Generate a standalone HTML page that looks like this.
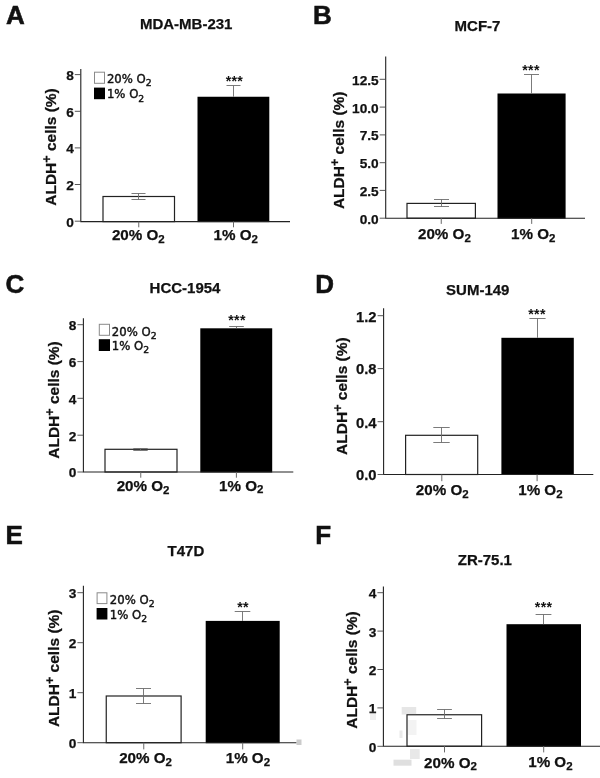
<!DOCTYPE html>
<html lang="en"><head><meta charset="utf-8"><title>ALDH+ cells under hypoxia</title>
<style>html,body{margin:0;padding:0;background:#fff;overflow:hidden}svg{display:block}text{font-family:"Liberation Sans", Arial, Helvetica, sans-serif;fill:#111}.lg{font-family:"DejaVu Sans","Liberation Sans",sans-serif}.st{font-weight:700;letter-spacing:0.3px}.b{font-weight:700;stroke:#111;stroke-width:0.25}.ax{stroke:#222;stroke-width:1.1;fill:none}.er{stroke:#6c6c6c;stroke-width:0.9;fill:none}.lg{stroke:#111;stroke-width:0.42}</style></head><body>
<svg width="600" height="778" viewBox="0 0 600 778">
<rect width="600" height="778" fill="#fff"/>
<g>
<text class="b" style="stroke-width:0.55" x="6.0" y="24.4" font-size="26">A</text>
<text class="b" x="186.2" y="28.9" font-size="15" text-anchor="middle">MDA-MB-231</text>
<rect x="103" y="196.5" width="71.5" height="25.1" fill="#fff" stroke="#222" stroke-width="1.2"/>
<rect x="197.5" y="96.75" width="71.8" height="125.35" fill="#000"/>
<path class="ax" d="M80.8 69V221.6H290"/>
<path class="ax" style="stroke-width:0.9;stroke:#444" d="M74.8 74.6H80.8M74.8 111.3H80.8M74.8 147.9H80.8M74.8 184.5H80.8M74.8 221.2H80.8"/>
<path class="ax" style="stroke-width:1;stroke:#6a6a6a" d="M138.75 221.6V227.3M233.5 221.6V227.3"/>
<text class="b" x="73.8" y="80.0" font-size="13.7" text-anchor="end">8</text>
<text class="b" x="73.8" y="116.7" font-size="13.7" text-anchor="end">6</text>
<text class="b" x="73.8" y="153.3" font-size="13.7" text-anchor="end">4</text>
<text class="b" x="73.8" y="189.9" font-size="13.7" text-anchor="end">2</text>
<text class="b" x="73.8" y="226.6" font-size="13.7" text-anchor="end">0</text>
<path class="er" d="M131.5 193.5H145.5M138.5 193.5V199.5M131.5 199.5H145.5"/>
<path class="er" d="M226.5 85.5H240.5M233.5 85.5V96.75"/>
<text class="st" x="234.4" y="85.6" font-size="14.2" text-anchor="middle">***</text>
<text class="b" x="138.3" y="239.8" font-size="15.2" text-anchor="middle">20% O<tspan dy="2.8" font-size="11.5">2</tspan></text>
<text class="b" x="235.8" y="239.8" font-size="15.2" text-anchor="middle">1% O<tspan dy="2.8" font-size="11.5">2</tspan></text>
<text class="b" transform="translate(55.6 147) rotate(-90)" font-size="15.5" text-anchor="middle">ALDH<tspan dy="-5" font-size="12.5">+</tspan><tspan dy="5"> cells (%)</tspan></text>
<rect x="94.5" y="72.2" width="10" height="11.1" fill="#fff" stroke="#8a8a8a" stroke-width="1"/>
<rect x="94.0" y="87.6" width="11" height="11.6" fill="#000"/>
<text class="lg" x="106.9" y="82.8" font-size="11.7">20% O<tspan dy="3.1" font-size="9.3">2</tspan></text>
<text class="lg" x="106.9" y="98.4" font-size="11.7">1% O<tspan dy="3.1" font-size="9.3">2</tspan></text>
</g>
<g>
<text class="b" style="stroke-width:0.55" x="313.1" y="24.3" font-size="26">B</text>
<text class="b" x="477.5" y="30.5" font-size="15" text-anchor="middle">MCF-7</text>
<rect x="407" y="203.4" width="68.4" height="14.8" fill="#fff" stroke="#222" stroke-width="1.2"/>
<rect x="497.5" y="93.5" width="68.1" height="125.2" fill="#000"/>
<path class="ax" d="M385.7 56.4V218.2H585"/>
<path class="ax" style="stroke-width:0.9;stroke:#444" d="M379.7 79.3H385.7M379.7 107.1H385.7M379.7 134.9H385.7M379.7 162.7H385.7M379.7 190.4H385.7M379.7 218.2H385.7"/>
<path class="ax" style="stroke-width:1;stroke:#6a6a6a" d="M441.25 218.2V223.9M531.7 218.2V223.9"/>
<text class="b" x="378.7" y="84.7" font-size="13.7" text-anchor="end">12.5</text>
<text class="b" x="378.7" y="112.5" font-size="13.7" text-anchor="end">10.0</text>
<text class="b" x="378.7" y="140.3" font-size="13.7" text-anchor="end">7.5</text>
<text class="b" x="378.7" y="168.1" font-size="13.7" text-anchor="end">5.0</text>
<text class="b" x="378.7" y="195.8" font-size="13.7" text-anchor="end">2.5</text>
<text class="b" x="378.7" y="223.6" font-size="13.7" text-anchor="end">0.0</text>
<path class="er" d="M434.0 199.5H449.0M441.5 199.5V206.5M434.0 206.5H449.0"/>
<path class="er" d="M524.0 74.5H539.0M531.5 74.5V93.5"/>
<text class="st" x="531" y="74.6" font-size="14.2" text-anchor="middle">***</text>
<text class="b" x="444.4" y="239.4" font-size="15.2" text-anchor="middle">20% O<tspan dy="2.8" font-size="11.5">2</tspan></text>
<text class="b" x="533.2" y="239.1" font-size="15.2" text-anchor="middle">1% O<tspan dy="2.8" font-size="11.5">2</tspan></text>
<text class="b" transform="translate(343.8 150.3) rotate(-90)" font-size="15.5" text-anchor="middle">ALDH<tspan dy="-5" font-size="12.5">+</tspan><tspan dy="5"> cells (%)</tspan></text>
</g>
<g>
<text class="b" style="stroke-width:0.55" x="5.5" y="292.8" font-size="26">C</text>
<text class="b" x="185" y="292.9" font-size="15" text-anchor="middle">HCC-1954</text>
<rect x="105" y="449.3" width="72" height="22.7" fill="#fff" stroke="#222" stroke-width="1.2"/>
<rect x="200.3" y="328.3" width="71.9" height="144.2" fill="#000"/>
<path class="ax" d="M83.4 318.2V472H293.3"/>
<path class="ax" style="stroke-width:0.9;stroke:#444" d="M77.4 324.7H83.4M77.4 361.6H83.4M77.4 398.3H83.4M77.4 435.2H83.4M77.4 472H83.4"/>
<path class="ax" style="stroke-width:1;stroke:#6a6a6a" d="M140.75 472V477.7M236.4 472V477.7"/>
<text class="b" x="76.4" y="330.1" font-size="13.7" text-anchor="end">8</text>
<text class="b" x="76.4" y="367.0" font-size="13.7" text-anchor="end">6</text>
<text class="b" x="76.4" y="403.7" font-size="13.7" text-anchor="end">4</text>
<text class="b" x="76.4" y="440.6" font-size="13.7" text-anchor="end">2</text>
<text class="b" x="76.4" y="477.4" font-size="13.7" text-anchor="end">0</text>
<path class="er" d="M133.3 448.5H147.7M140.5 448.5V450.5M133.3 450.5H147.7"/>
<path class="er" d="M229.2 326.5H243.8M236.5 326.5V328.3"/>
<text class="st" x="237" y="324.9" font-size="14.2" text-anchor="middle">***</text>
<text class="b" x="143.1" y="491.3" font-size="15.2" text-anchor="middle">20% O<tspan dy="2.8" font-size="11.5">2</tspan></text>
<text class="b" x="241.2" y="490.5" font-size="15.2" text-anchor="middle">1% O<tspan dy="2.8" font-size="11.5">2</tspan></text>
<text class="b" transform="translate(58.5 400) rotate(-90)" font-size="15.5" text-anchor="middle">ALDH<tspan dy="-5" font-size="12.5">+</tspan><tspan dy="5"> cells (%)</tspan></text>
<rect x="99.3" y="324.3" width="10.2" height="11" fill="#fff" stroke="#8a8a8a" stroke-width="1"/>
<rect x="98.8" y="339.2" width="11.2" height="11.8" fill="#000"/>
<text class="lg" x="111.8" y="336.0" font-size="11.7">20% O<tspan dy="3.1" font-size="9.3">2</tspan></text>
<text class="lg" x="111.8" y="350.0" font-size="11.7">1% O<tspan dy="3.1" font-size="9.3">2</tspan></text>
</g>
<g>
<text class="b" style="stroke-width:0.55" x="315.3" y="292.8" font-size="26">D</text>
<text class="b" x="477.75" y="294.75" font-size="15" text-anchor="middle">SUM-149</text>
<rect x="405.6" y="435.3" width="72.1" height="39.2" fill="#fff" stroke="#222" stroke-width="1.2"/>
<rect x="501.4" y="337.8" width="72.4" height="137.2" fill="#000"/>
<path class="ax" d="M383.6 308.2V474.5H593.3"/>
<path class="ax" style="stroke-width:0.9;stroke:#444" d="M377.6 315.7H383.6M377.6 368.6H383.6M377.6 421.7H383.6M377.6 474.5H383.6"/>
<path class="ax" style="stroke-width:1;stroke:#6a6a6a" d="M441.8 474.5V481.2M537.1 474.5V481.2"/>
<text class="b" x="376.6" y="321.5" font-size="14.8" text-anchor="end">1.2</text>
<text class="b" x="376.6" y="374.4" font-size="14.8" text-anchor="end">0.8</text>
<text class="b" x="376.6" y="427.5" font-size="14.8" text-anchor="end">0.4</text>
<text class="b" x="376.6" y="480.3" font-size="14.8" text-anchor="end">0.0</text>
<path class="er" d="M433.3 427.5H449.7M441.5 427.5V442.5M433.3 442.5H449.7"/>
<path class="er" d="M529.4 318.5H545.6M537.5 318.5V337.8"/>
<text class="st" x="537" y="319.4" font-size="14.2" text-anchor="middle">***</text>
<text class="b" x="442.25" y="495.3" font-size="15.2" text-anchor="middle">20% O<tspan dy="2.8" font-size="11.5">2</tspan></text>
<text class="b" x="540.4" y="495.0" font-size="15.2" text-anchor="middle">1% O<tspan dy="2.8" font-size="11.5">2</tspan></text>
<text class="b" transform="translate(347.2 396.1) rotate(-90)" font-size="15.5" text-anchor="middle">ALDH<tspan dy="-5" font-size="12.5">+</tspan><tspan dy="5"> cells (%)</tspan></text>
</g>
<g>
<text class="b" style="stroke-width:0.55" x="5.6" y="543.7" font-size="26">E</text>
<text class="b" x="185.9" y="556.2" font-size="15" text-anchor="middle">T47D</text>
<rect x="106.25" y="696" width="74.85" height="46.7" fill="#fff" stroke="#222" stroke-width="1.2"/>
<rect x="205.7" y="620.9" width="74.0" height="122.3" fill="#000"/>
<path class="ax" d="M83.4 585.7V742.7H296.4"/>
<path class="ax" style="stroke-width:0.9;stroke:#444" d="M77.4 592.7H83.4M77.4 642.7H83.4M77.4 692.7H83.4M77.4 742.7H83.4"/>
<path class="ax" style="stroke-width:1;stroke:#6a6a6a" d="M143.75 742.7V749.4M242.7 742.7V749.4"/>
<text class="b" x="76.4" y="598.1" font-size="13.7" text-anchor="end">3</text>
<text class="b" x="76.4" y="648.1" font-size="13.7" text-anchor="end">2</text>
<text class="b" x="76.4" y="698.1" font-size="13.7" text-anchor="end">1</text>
<text class="b" x="76.4" y="748.1" font-size="13.7" text-anchor="end">0</text>
<path class="er" d="M136.0 688.5H151.0M143.5 688.5V703.5M136.0 703.5H151.0"/>
<path class="er" d="M234.7 611.5H250.3M242.5 611.5V620.9"/>
<text class="st" x="243" y="611.6" font-size="14.2" text-anchor="middle">**</text>
<text class="b" x="145.6" y="763.3" font-size="15.2" text-anchor="middle">20% O<tspan dy="2.8" font-size="11.5">2</tspan></text>
<text class="b" x="247.9" y="763.3" font-size="15.2" text-anchor="middle">1% O<tspan dy="2.8" font-size="11.5">2</tspan></text>
<text class="b" transform="translate(58.5 668.3) rotate(-90)" font-size="15.5" text-anchor="middle">ALDH<tspan dy="-5" font-size="12.5">+</tspan><tspan dy="5"> cells (%)</tspan></text>
<rect x="97.1" y="592.8" width="9.8" height="10.8" fill="#fff" stroke="#8a8a8a" stroke-width="1"/>
<rect x="96.6" y="608" width="10.8" height="11.5" fill="#000"/>
<text class="lg" x="109.8" y="604.3" font-size="11.7">20% O<tspan dy="3.1" font-size="9.3">2</tspan></text>
<text class="lg" x="109.8" y="619.0" font-size="11.7">1% O<tspan dy="3.1" font-size="9.3">2</tspan></text>
</g>
<g>
<text class="b" style="stroke-width:0.55" x="315.3" y="543.7" font-size="26">F</text>
<text class="b" x="484.85" y="565.2" font-size="15" text-anchor="middle">ZR-75.1</text>
<rect x="407" y="714.75" width="74.6" height="31.45" fill="#fff" stroke="#222" stroke-width="1.2"/>
<rect x="506.5" y="624.2" width="74.5" height="122.5" fill="#000"/>
<path class="ax" d="M383.4 586.5V746.2H600"/>
<path class="ax" style="stroke-width:0.9;stroke:#444" d="M377.4 592.7H383.4M377.4 631.1H383.4M377.4 669.5H383.4M377.4 707.9H383.4M377.4 746.3H383.4"/>
<path class="ax" style="stroke-width:1;stroke:#6a6a6a" d="M444.5 746.2V752.4M543.7 746.2V752.4"/>
<text class="b" x="376.4" y="598.1" font-size="13.7" text-anchor="end">4</text>
<text class="b" x="376.4" y="636.5" font-size="13.7" text-anchor="end">3</text>
<text class="b" x="376.4" y="674.9" font-size="13.7" text-anchor="end">2</text>
<text class="b" x="376.4" y="713.3" font-size="13.7" text-anchor="end">1</text>
<text class="b" x="376.4" y="751.7" font-size="13.7" text-anchor="end">0</text>
<path class="er" d="M437.1 709.5H451.9M444.5 709.5V718.5M437.1 718.5H451.9"/>
<path class="er" d="M535.6 614.5H551.4M543.5 614.5V624.2"/>
<text class="st" x="543.6" y="611.6" font-size="14.2" text-anchor="middle">***</text>
<text class="b" x="450.5" y="767.6" font-size="15.2" text-anchor="middle">20% O<tspan dy="2.8" font-size="11.5">2</tspan></text>
<text class="b" x="550.4" y="767.3" font-size="15.2" text-anchor="middle">1% O<tspan dy="2.8" font-size="11.5">2</tspan></text>
<text class="b" transform="translate(357.2 670) rotate(-90)" font-size="15.5" text-anchor="middle">ALDH<tspan dy="-5" font-size="12.5">+</tspan><tspan dy="5"> cells (%)</tspan></text>
</g>
<g fill="#8c8c8c">
<rect x="401.7" y="707" width="14.5" height="7.5" opacity="0.22"/>
<rect x="370" y="711" width="6" height="9" opacity="0.14"/>
<rect x="399.5" y="730.5" width="3" height="7.5" opacity="0.18"/>
<rect x="408" y="720" width="8.5" height="15" opacity="0.1"/>
<rect x="410" y="749" width="9.7" height="10" opacity="0.2"/>
<rect x="393.5" y="759.7" width="18" height="6" opacity="0.28"/>
<rect x="296.5" y="739.5" width="5" height="5.5" opacity="0.45"/>
</g>
</svg></body></html>
